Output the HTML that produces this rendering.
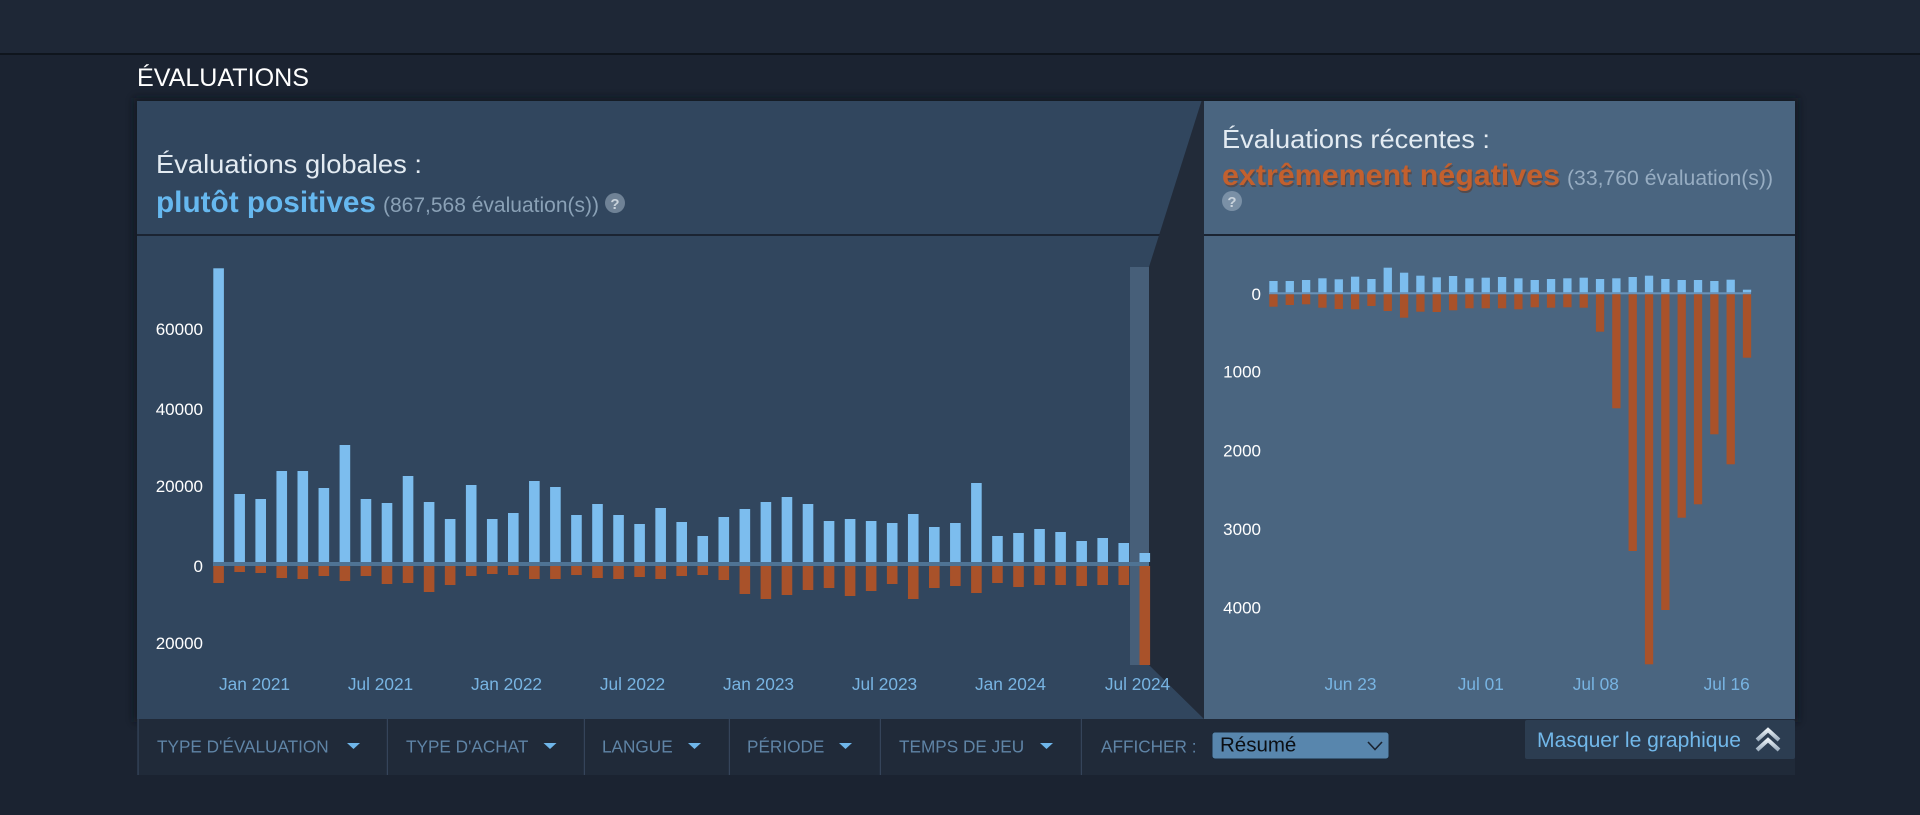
<!DOCTYPE html>
<html>
<head>
<meta charset="utf-8">
<style>
html,body{margin:0;padding:0;background:#1b2331;}
body{width:1920px;height:815px;overflow:hidden;}
svg{display:block;font-family:"Liberation Sans","DejaVu Sans",sans-serif;}
</style>
</head>
<body>
<svg width="1920" height="815" viewBox="0 0 1920 815" xmlns="http://www.w3.org/2000/svg">
<defs>
<filter id="sh" x="-5%" y="-5%" width="110%" height="110%"><feGaussianBlur stdDeviation="4"/></filter>
<linearGradient id="chev" x1="0" y1="0" x2="0" y2="1"><stop offset="0" stop-color="#e6edf3"/><stop offset="1" stop-color="#9fb0c0"/></linearGradient>
</defs>
<!-- backgrounds -->
<rect x="0" y="0" width="1920" height="815" fill="#1b2331"/>
<rect x="0" y="0" width="1920" height="53" fill="#1e2736"/>
<rect x="0" y="53" width="1920" height="2" fill="#0f151d"/>

<text x="137" y="86" font-size="25" fill="#ffffff" textLength="172" lengthAdjust="spacingAndGlyphs">ÉVALUATIONS</text>

<!-- panel shadow -->
<rect x="134" y="98" width="1664" height="624" fill="#0d131b" opacity="0.7" filter="url(#sh)"/>

<!-- left panel -->
<rect x="137" y="101" width="1067" height="618" fill="#31465e"/>
<!-- right panel -->
<rect x="1204" y="101" width="591" height="618" fill="#4a6580"/>
<!-- header separator -->
<rect x="137" y="234" width="1658" height="2" fill="#1b2432"/>

<!-- left header text -->
<text x="156" y="173" font-size="26" fill="#e3ebf2" textLength="266" lengthAdjust="spacingAndGlyphs">Évaluations globales :</text>
<text x="156" y="212" font-size="30" font-weight="bold" fill="#66b8ef" textLength="220" lengthAdjust="spacingAndGlyphs">plutôt positives</text>
<text x="383" y="212" font-size="21" fill="#8aa1b6" textLength="216" lengthAdjust="spacingAndGlyphs">(867,568 évaluation(s))</text>
<circle cx="615" cy="203" r="10" fill="#6f8296"/>
<text x="615" y="209" font-size="15" font-weight="bold" fill="#c9d3dc" text-anchor="middle">?</text>

<!-- right header text -->
<text x="1222" y="148" font-size="26" fill="#e3ebf2" textLength="268" lengthAdjust="spacingAndGlyphs">Évaluations récentes :</text>
<text x="1223" y="187" font-size="30" font-weight="bold" fill="#5a3320" opacity="0.5" textLength="338" lengthAdjust="spacingAndGlyphs">extrêmement négatives</text>
<text x="1222" y="185" font-size="30" font-weight="bold" fill="#c2602e" textLength="338" lengthAdjust="spacingAndGlyphs">extrêmement négatives</text>
<text x="1567" y="185" font-size="21" fill="#97adc2" textLength="206" lengthAdjust="spacingAndGlyphs">(33,760 évaluation(s))</text>
<circle cx="1232" cy="201" r="10" fill="#7a90a6"/>
<text x="1232" y="207" font-size="15" font-weight="bold" fill="#c9d3dc" text-anchor="middle">?</text>

<!-- trapezoid connector -->
<polygon points="1201.5,101 1204,101 1204,719 1149,665 1149,267" fill="#222b39"/>
<!-- highlight band -->
<rect x="1130" y="267" width="19" height="398" fill="#475f79"/>

<!-- left y labels -->
<g font-size="17" fill="#ffffff" text-anchor="end">
<text x="203" y="335">60000</text>
<text x="203" y="415">40000</text>
<text x="203" y="492">20000</text>
<text x="203" y="572">0</text>
<text x="203" y="649">20000</text>
</g>

<!-- left zero line -->
<rect x="213" y="562" width="936" height="4" fill="#4f7394"/>

<!-- left blue bars -->
<g fill="#7cbdee">
<rect x="213.3" y="268.3" width="10.6" height="293.7"/>
<rect x="234.35" y="494" width="10.6" height="68"/>
<rect x="255.4" y="499" width="10.6" height="63"/>
<rect x="276.45" y="471" width="10.6" height="91"/>
<rect x="297.5" y="471" width="10.6" height="91"/>
<rect x="318.55" y="488" width="10.6" height="74"/>
<rect x="339.6" y="445" width="10.6" height="117"/>
<rect x="360.65" y="499" width="10.6" height="63"/>
<rect x="381.7" y="503" width="10.6" height="59"/>
<rect x="402.75" y="476" width="10.6" height="86"/>
<rect x="423.8" y="502" width="10.6" height="60"/>
<rect x="444.85" y="519" width="10.6" height="43"/>
<rect x="465.9" y="485" width="10.6" height="77"/>
<rect x="486.95" y="519" width="10.6" height="43"/>
<rect x="508" y="513" width="10.6" height="49"/>
<rect x="529.05" y="481" width="10.6" height="81"/>
<rect x="550.1" y="487" width="10.6" height="75"/>
<rect x="571.15" y="515" width="10.6" height="47"/>
<rect x="592.2" y="504" width="10.6" height="58"/>
<rect x="613.25" y="515" width="10.6" height="47"/>
<rect x="634.3" y="524" width="10.6" height="38"/>
<rect x="655.35" y="508" width="10.6" height="54"/>
<rect x="676.4" y="522" width="10.6" height="40"/>
<rect x="697.45" y="536" width="10.6" height="26"/>
<rect x="718.5" y="517" width="10.6" height="45"/>
<rect x="739.55" y="509" width="10.6" height="53"/>
<rect x="760.6" y="502" width="10.6" height="60"/>
<rect x="781.65" y="497" width="10.6" height="65"/>
<rect x="802.7" y="504" width="10.6" height="58"/>
<rect x="823.75" y="521" width="10.6" height="41"/>
<rect x="844.8" y="519" width="10.6" height="43"/>
<rect x="865.85" y="521" width="10.6" height="41"/>
<rect x="886.9" y="523" width="10.6" height="39"/>
<rect x="907.95" y="514" width="10.6" height="48"/>
<rect x="929" y="527" width="10.6" height="35"/>
<rect x="950.05" y="523" width="10.6" height="39"/>
<rect x="971.1" y="483" width="10.6" height="79"/>
<rect x="992.15" y="536" width="10.6" height="26"/>
<rect x="1013.2" y="533" width="10.6" height="29"/>
<rect x="1034.25" y="529" width="10.6" height="33"/>
<rect x="1055.3" y="532" width="10.6" height="30"/>
<rect x="1076.35" y="541" width="10.6" height="21"/>
<rect x="1097.4" y="538" width="10.6" height="24"/>
<rect x="1118.45" y="543" width="10.6" height="19"/>
<rect x="1139.5" y="553" width="10.6" height="9"/>
</g>
<!-- left orange bars -->
<g fill="#a9522a">
<rect x="213.3" y="566" width="10.6" height="17"/>
<rect x="234.35" y="566" width="10.6" height="6"/>
<rect x="255.4" y="566" width="10.6" height="7"/>
<rect x="276.45" y="566" width="10.6" height="12"/>
<rect x="297.5" y="566" width="10.6" height="13"/>
<rect x="318.55" y="566" width="10.6" height="10"/>
<rect x="339.6" y="566" width="10.6" height="15"/>
<rect x="360.65" y="566" width="10.6" height="10"/>
<rect x="381.7" y="566" width="10.6" height="18"/>
<rect x="402.75" y="566" width="10.6" height="17"/>
<rect x="423.8" y="566" width="10.6" height="26"/>
<rect x="444.85" y="566" width="10.6" height="19"/>
<rect x="465.9" y="566" width="10.6" height="10"/>
<rect x="486.95" y="566" width="10.6" height="8"/>
<rect x="508" y="566" width="10.6" height="9"/>
<rect x="529.05" y="566" width="10.6" height="13"/>
<rect x="550.1" y="566" width="10.6" height="13"/>
<rect x="571.15" y="566" width="10.6" height="9"/>
<rect x="592.2" y="566" width="10.6" height="12"/>
<rect x="613.25" y="566" width="10.6" height="13"/>
<rect x="634.3" y="566" width="10.6" height="11"/>
<rect x="655.35" y="566" width="10.6" height="13"/>
<rect x="676.4" y="566" width="10.6" height="10"/>
<rect x="697.45" y="566" width="10.6" height="9"/>
<rect x="718.5" y="566" width="10.6" height="14"/>
<rect x="739.55" y="566" width="10.6" height="28"/>
<rect x="760.6" y="566" width="10.6" height="33"/>
<rect x="781.65" y="566" width="10.6" height="29"/>
<rect x="802.7" y="566" width="10.6" height="24"/>
<rect x="823.75" y="566" width="10.6" height="22"/>
<rect x="844.8" y="566" width="10.6" height="30"/>
<rect x="865.85" y="566" width="10.6" height="25"/>
<rect x="886.9" y="566" width="10.6" height="18"/>
<rect x="907.95" y="566" width="10.6" height="33"/>
<rect x="929" y="566" width="10.6" height="22"/>
<rect x="950.05" y="566" width="10.6" height="20"/>
<rect x="971.1" y="566" width="10.6" height="27"/>
<rect x="992.15" y="566" width="10.6" height="17"/>
<rect x="1013.2" y="566" width="10.6" height="21"/>
<rect x="1034.25" y="566" width="10.6" height="19"/>
<rect x="1055.3" y="566" width="10.6" height="19"/>
<rect x="1076.35" y="566" width="10.6" height="20"/>
<rect x="1097.4" y="566" width="10.6" height="19"/>
<rect x="1118.45" y="566" width="10.6" height="19"/>
<rect x="1139.5" y="566" width="10.6" height="99"/>
</g>

<!-- left x labels -->
<g font-size="17.3" fill="#78b4e2" text-anchor="middle">
<text x="254.5" y="690">Jan 2021</text>
<text x="380.5" y="690">Jul 2021</text>
<text x="506.5" y="690">Jan 2022</text>
<text x="632.5" y="690">Jul 2022</text>
<text x="758.5" y="690">Jan 2023</text>
<text x="884.5" y="690">Jul 2023</text>
<text x="1010.5" y="690">Jan 2024</text>
<text x="1137.5" y="690">Jul 2024</text>
</g>

<!-- right y labels -->
<g font-size="17" fill="#ffffff" text-anchor="end">
<text x="1261" y="300">0</text>
<text x="1261" y="377.3">1000</text>
<text x="1261" y="456.3">2000</text>
<text x="1261" y="535">3000</text>
<text x="1261" y="613.5">4000</text>
</g>

<!-- right zero line -->
<rect x="1269" y="292.3" width="482" height="2" fill="#6a93b9"/>

<!-- right blue bars -->
<g fill="#7cbdee">
<rect x="1269.3" y="281" width="8.3" height="11.3"/>
<rect x="1285.63" y="281" width="8.3" height="11.3"/>
<rect x="1301.96" y="280" width="8.3" height="12.3"/>
<rect x="1318.29" y="278.3" width="8.3" height="14"/>
<rect x="1334.62" y="279.3" width="8.3" height="13"/>
<rect x="1350.95" y="276.7" width="8.3" height="15.6"/>
<rect x="1367.28" y="279" width="8.3" height="13.3"/>
<rect x="1383.61" y="267.7" width="8.3" height="24.6"/>
<rect x="1399.94" y="272.7" width="8.3" height="19.6"/>
<rect x="1416.27" y="275.7" width="8.3" height="16.6"/>
<rect x="1432.6" y="277.3" width="8.3" height="15"/>
<rect x="1448.93" y="276" width="8.3" height="16.3"/>
<rect x="1465.26" y="278.3" width="8.3" height="14"/>
<rect x="1481.59" y="277.7" width="8.3" height="14.6"/>
<rect x="1497.92" y="277" width="8.3" height="15.3"/>
<rect x="1514.25" y="278.3" width="8.3" height="14"/>
<rect x="1530.58" y="280" width="8.3" height="12.3"/>
<rect x="1546.91" y="279" width="8.3" height="13.3"/>
<rect x="1563.24" y="278.3" width="8.3" height="14"/>
<rect x="1579.57" y="277.7" width="8.3" height="14.6"/>
<rect x="1595.9" y="279" width="8.3" height="13.3"/>
<rect x="1612.23" y="278.3" width="8.3" height="14"/>
<rect x="1628.56" y="277" width="8.3" height="15.3"/>
<rect x="1644.89" y="275.7" width="8.3" height="16.6"/>
<rect x="1661.22" y="279" width="8.3" height="13.3"/>
<rect x="1677.55" y="280" width="8.3" height="12.3"/>
<rect x="1693.88" y="280" width="8.3" height="12.3"/>
<rect x="1710.21" y="281" width="8.3" height="11.3"/>
<rect x="1726.54" y="279.7" width="8.3" height="12.6"/>
<rect x="1742.87" y="289.7" width="8.3" height="2.6"/>
</g>
<!-- right orange bars -->
<g fill="#a9522a">
<rect x="1269.3" y="294.3" width="8.3" height="12.4"/>
<rect x="1285.63" y="294.3" width="8.3" height="10.7"/>
<rect x="1301.96" y="294.3" width="8.3" height="10"/>
<rect x="1318.29" y="294.3" width="8.3" height="13.4"/>
<rect x="1334.62" y="294.3" width="8.3" height="14.7"/>
<rect x="1350.95" y="294.3" width="8.3" height="15"/>
<rect x="1367.28" y="294.3" width="8.3" height="11.7"/>
<rect x="1383.61" y="294.3" width="8.3" height="16.7"/>
<rect x="1399.94" y="294.3" width="8.3" height="23.4"/>
<rect x="1416.27" y="294.3" width="8.3" height="17.4"/>
<rect x="1432.6" y="294.3" width="8.3" height="17.7"/>
<rect x="1448.93" y="294.3" width="8.3" height="16"/>
<rect x="1465.26" y="294.3" width="8.3" height="14"/>
<rect x="1481.59" y="294.3" width="8.3" height="14"/>
<rect x="1497.92" y="294.3" width="8.3" height="14"/>
<rect x="1514.25" y="294.3" width="8.3" height="15"/>
<rect x="1530.58" y="294.3" width="8.3" height="13"/>
<rect x="1546.91" y="294.3" width="8.3" height="13.4"/>
<rect x="1563.24" y="294.3" width="8.3" height="13"/>
<rect x="1579.57" y="294.3" width="8.3" height="13.4"/>
<rect x="1595.9" y="294.3" width="8.3" height="37.4"/>
<rect x="1612.23" y="294.3" width="8.3" height="114"/>
<rect x="1628.56" y="294.3" width="8.3" height="256.7"/>
<rect x="1644.89" y="294.3" width="8.3" height="370"/>
<rect x="1661.22" y="294.3" width="8.3" height="315.7"/>
<rect x="1677.55" y="294.3" width="8.3" height="223.4"/>
<rect x="1693.88" y="294.3" width="8.3" height="210"/>
<rect x="1710.21" y="294.3" width="8.3" height="140"/>
<rect x="1726.54" y="294.3" width="8.3" height="170"/>
<rect x="1742.87" y="294.3" width="8.3" height="63.4"/>
</g>

<!-- right x labels -->
<g font-size="17.3" fill="#78b4e2" text-anchor="middle">
<text x="1350.5" y="690">Jun 23</text>
<text x="1480.8" y="690">Jul 01</text>
<text x="1595.8" y="690">Jul 08</text>
<text x="1726.7" y="690">Jul 16</text>
</g>

<!-- bottom filter bar -->
<rect x="137" y="719" width="1658" height="56" fill="#202a39"/>
<g fill="#35445a">
<rect x="137.5" y="719" width="1.2" height="56"/>
<rect x="386.8" y="719" width="1.2" height="56"/>
<rect x="583.8" y="719" width="1.2" height="56"/>
<rect x="728.8" y="719" width="1.2" height="56"/>
<rect x="879.8" y="719" width="1.2" height="56"/>
<rect x="1080.8" y="719" width="1.2" height="56"/>
</g>
<g font-size="17.2" fill="#5f84a6">
<text x="157" y="752.7">TYPE D'ÉVALUATION</text>
<text x="406" y="752.7">TYPE D'ACHAT</text>
<text x="602" y="752.7">LANGUE</text>
<text x="747" y="752.7">PÉRIODE</text>
<text x="899" y="752.7">TEMPS DE JEU</text>
<text x="1101" y="752.7">AFFICHER :</text>
</g>
<g fill="#6fb6ea">
<polygon points="347,743 360,743 353.5,749"/>
<polygon points="543.5,743 556.5,743 550,749"/>
<polygon points="688,743 701,743 694.5,749"/>
<polygon points="839,743 852,743 845.5,749"/>
<polygon points="1040,743 1053,743 1046.5,749"/>
</g>

<!-- select -->
<rect x="1212" y="732" width="177" height="27" rx="3" fill="#5886ad" stroke="#1a2a3a" stroke-width="1"/>
<text x="1220" y="751.5" font-size="20.5" fill="#0b0f14">Résumé</text>
<polyline points="1368,742 1375,749.5 1382,742" fill="none" stroke="#1a2330" stroke-width="1.6"/>

<!-- hide graph button -->
<rect x="1525" y="720" width="270" height="39" rx="2" fill="#2c3d51"/>
<text x="1537" y="747" font-size="21" fill="#72b8ea" textLength="204" lengthAdjust="spacingAndGlyphs">Masquer le graphique</text>
<polyline points="1757,740 1768,730 1779,740" fill="none" stroke="url(#chev)" stroke-width="4"/>
<polyline points="1757,750 1768,740 1779,750" fill="none" stroke="url(#chev)" stroke-width="4"/>
</svg>
</body>
</html>
